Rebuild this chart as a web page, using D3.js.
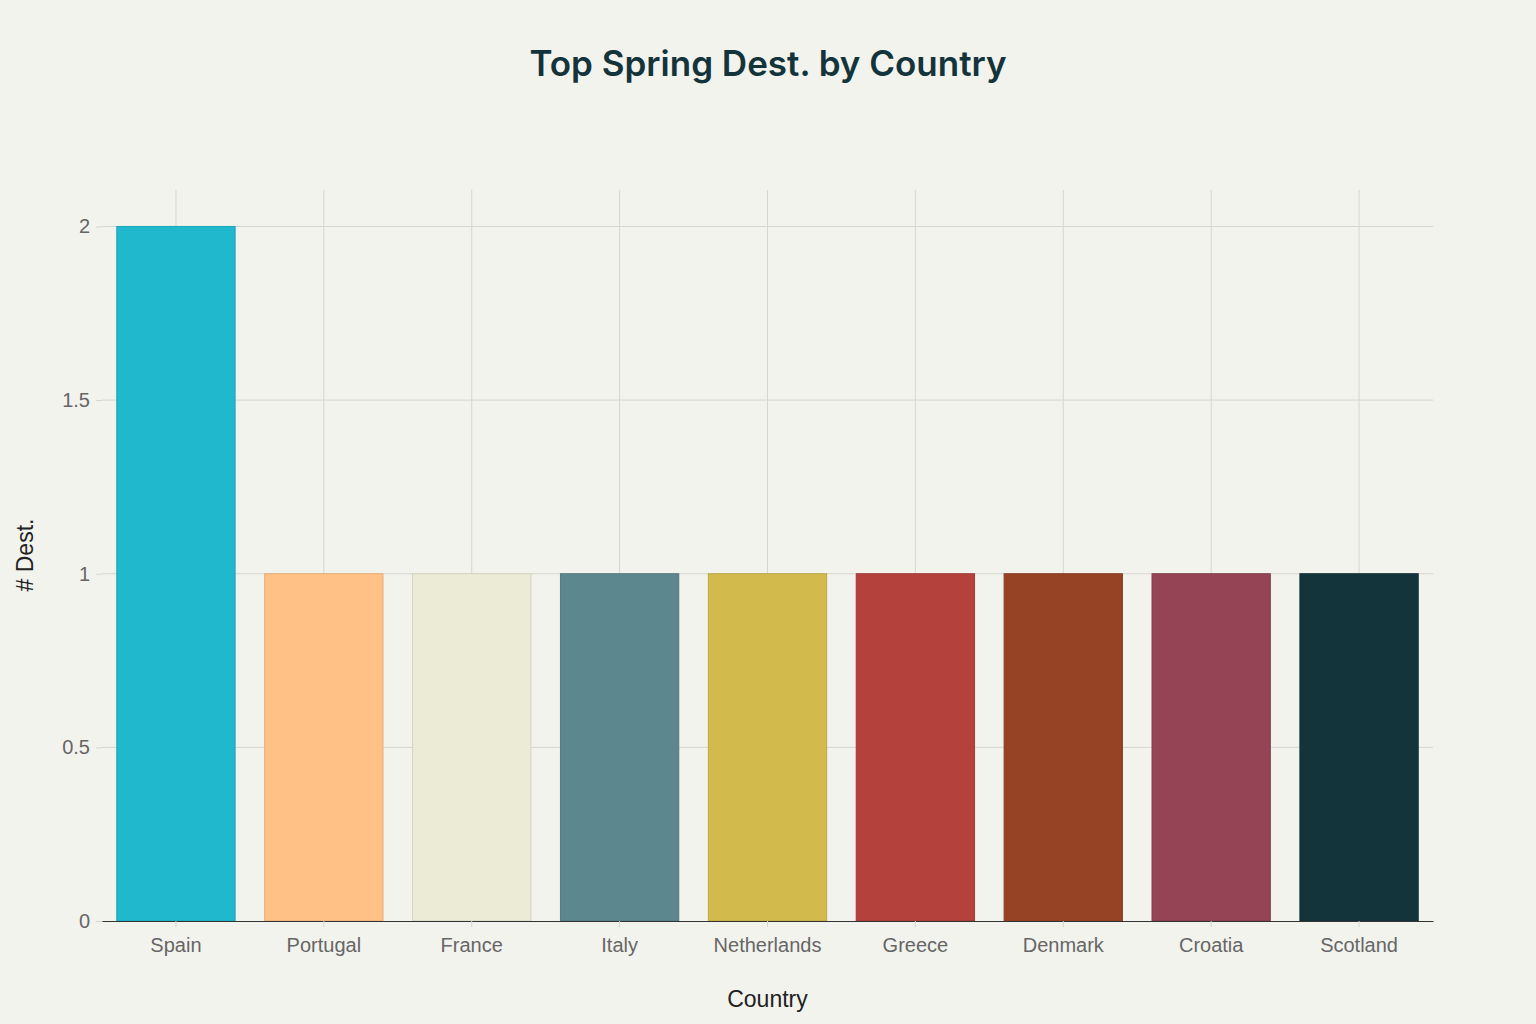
<!DOCTYPE html>
<html>
<head>
<meta charset="utf-8">
<script src="https://cdn.jsdelivr.net/npm/d3@7"></script>
<style>
  body { margin: 0; background: #f3f3ee; }
  svg { display: block; font-family: "Liberation Sans", Arial, sans-serif; }
</style>
</head>
<body>
<svg id="chart"></svg>
<script>
const countries = ["Spain", "Portugal", "France", "Italy", "Netherlands", "Greece", "Denmark", "Croatia", "Scotland"];
const destCounts = [2, 1, 1, 1, 1, 1, 1, 1, 1];
const barColors = ["#1fb8cd", "#ffc185", "#ecebd5", "#5d878f", "#d2ba4c", "#b4413c", "#964325", "#944454", "#13343b"];
const yTicks = [0, 0.5, 1, 1.5, 2];

const svgWidth = 1536, svgHeight = 1024;
const margin = { top: 190, right: 103, bottom: 103, left: 102 };

const svg = d3.select("#chart")
  .attr("width", svgWidth)
  .attr("height", svgHeight);

svg.append("rect")
  .attr("width", svgWidth)
  .attr("height", svgHeight)
  .attr("fill", "#f3f3ee");

const xScale = d3.scaleBand()
  .domain(countries)
  .range([margin.left, svgWidth - margin.right])
  .paddingInner(0.2)
  .paddingOuter(0.1);

const yScale = d3.scaleLinear()
  .domain([0, 2.105])
  .range([svgHeight - margin.bottom, margin.top]);

// grid lines
const grid = svg.append("g").attr("stroke", "#d6d6d0").attr("stroke-width", 1);
grid.selectAll(".vgrid")
  .data(countries)
  .enter()
  .append("line")
  .attr("x1", d => xScale(d) + xScale.bandwidth() / 2)
  .attr("x2", d => xScale(d) + xScale.bandwidth() / 2)
  .attr("y1", margin.top)
  .attr("y2", svgHeight - margin.bottom);
grid.selectAll(".hgrid")
  .data(yTicks.filter(t => t > 0))
  .enter()
  .append("line")
  .attr("x1", margin.left)
  .attr("x2", svgWidth - margin.right)
  .attr("y1", d => yScale(d))
  .attr("y2", d => yScale(d));

// bars
svg.selectAll(".bar")
  .data(countries)
  .enter()
  .append("rect")
  .attr("class", "bar")
  .attr("x", d => xScale(d))
  .attr("width", xScale.bandwidth())
  .attr("y", (d, i) => yScale(destCounts[i]))
  .attr("height", (d, i) => yScale(0) - yScale(destCounts[i]))
  .attr("fill", (d, i) => barColors[i])
  .attr("stroke", (d, i) => d3.color(barColors[i]).darker(0.3))
  .attr("stroke-width", 1);

// x axis
const xAxis = d3.axisBottom(xScale).tickSize(6).tickSizeOuter(0).tickPadding(11);
const gx = svg.append("g")
  .attr("transform", `translate(0, ${yScale(0)})`)
  .call(xAxis);
gx.select(".domain").attr("stroke", "#333").attr("stroke-width", 1);
gx.selectAll(".tick line").attr("stroke", "#d6d6d0");
gx.selectAll(".tick text")
  .attr("fill", "#666")
  .attr("font-size", "20px")
  .attr("font-family", "'Liberation Sans', Arial, sans-serif");

// y axis
const yAxis = d3.axisLeft(yScale)
  .tickValues(yTicks)
  .tickFormat(d => d)
  .tickSize(6)
  .tickSizeOuter(0)
  .tickPadding(6);
const gy = svg.append("g")
  .attr("transform", `translate(${margin.left}, 0)`)
  .call(yAxis);
gy.select(".domain").remove();
gy.selectAll(".tick line").attr("stroke", "#d6d6d0");
gy.selectAll(".tick text")
  .attr("fill", "#666")
  .attr("font-size", "20px")
  .attr("font-family", "'Liberation Sans', Arial, sans-serif");

// title
svg.append("text")
  .attr("x", svgWidth / 2)
  .attr("y", 76)
  .attr("text-anchor", "middle")
  .attr("font-family", "Inter, 'Liberation Sans', sans-serif")
  .attr("font-size", "35px")
  .attr("font-weight", 600)
  .attr("fill", "#13343b")
  .text("Top Spring Dest. by Country");

// axis titles
svg.append("text")
  .attr("x", (margin.left + svgWidth - margin.right) / 2)
  .attr("y", 1007)
  .attr("text-anchor", "middle")
  .attr("font-size", "23px")
  .attr("fill", "#222")
  .text("Country");

svg.append("text")
  .attr("transform", "rotate(-90)")
  .attr("x", -555)
  .attr("y", 33)
  .attr("text-anchor", "middle")
  .attr("font-size", "23px")
  .attr("fill", "#222")
  .text("# Dest.");
</script>
</body>
</html>
